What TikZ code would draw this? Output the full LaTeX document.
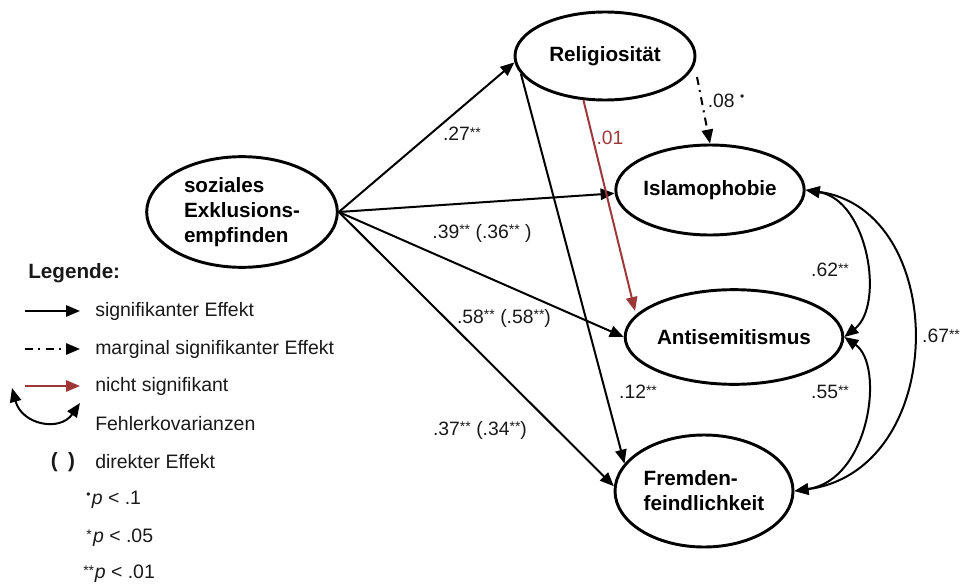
\documentclass[tikz,border=0pt]{standalone}
\usepackage{fontspec}
\setmainfont{Liberation Sans}
\usetikzlibrary{shapes.geometric,arrows.meta}
\definecolor{nsred}{RGB}{158,56,56}
\definecolor{txt}{RGB}{25,25,25}
% small raised significance marks
\newcommand\stars[1]{\raisebox{2.6pt}{\fontsize{10.5}{10}\selectfont #1}}
\newcommand\pdot{\raisebox{5pt}{\fontsize{9}{9}\selectfont •}}
\begin{document}
\begin{tikzpicture}[x=0.75pt,y=-0.75pt,
  construct/.style={ellipse,draw,line width=2.2pt,inner sep=0pt,
    font=\fontsize{15.5}{18.75}\selectfont\bfseries,align=left},
  tip/.style={-{Triangle[length=10.5pt,width=8.5pt]}},
  effect/.style={line width=1.5pt,tip},
  marginal/.style={effect,dash pattern=on 6pt off 4pt on 1.5pt off 4pt},
  nonsig/.style={effect,draw=nsred,-{Triangle[length=10.5pt,width=8.5pt,fill=nsred]}},
  cov/.style={line width=1.5pt,{Triangle[length=10.5pt,width=8.5pt]}-{Triangle[length=10.5pt,width=8.5pt]}},
  coef/.style={font=\fontsize{14.5}{16}\selectfont,text=txt,inner sep=0pt},
  legtext/.style={font=\fontsize{14.6}{16}\selectfont,text=txt,anchor=west,inner sep=0pt},
]
\useasboundingbox (0,0) rectangle (962,585);

% latent constructs
\node[construct,minimum width=143pt,minimum height=83pt] (soz) at (242,212)
  {soziales\\Exklusions-\\empfinden};
\node[construct,minimum width=135pt,minimum height=66pt] (rel) at (605,56) {Religiosität};
\node[construct,minimum width=128pt,minimum height=67.5pt] (isl) at (710,190) {Islamophobie};
\node[construct,minimum width=145pt,minimum height=71pt] (anti) at (734,337) {Antisemitismus};
\node[construct,minimum width=133.5pt,minimum height=84pt] (frem) at (704,491) {Fremden-\\feindlichkeit};

% free ends of paths that stop short of a node
\coordinate (dstart) at (697,77);
\coordinate (redend) at (635,311);

% structural paths
\draw[effect] (soz.east) -- (rel.184);
\draw[effect] (soz.east) -- (isl.182);
\draw[effect] (soz.east) -- (anti.west);
\draw[effect] (soz.east) -- (frem.177);
\draw[effect] (rel.192) -- (frem.161);
\draw[nonsig] (rel.244) -- (redend);
\draw[marginal] (dstart) -- (isl.north);

% error covariances
\draw[cov] (isl.east) .. controls (868,200) and (885,305) .. (anti.east);
\draw[cov] (anti.east) .. controls (885,365) and (870,480) .. (frem.east);
\draw[cov] (isl.east) .. controls (950,210) and (950,470) .. (frem.east);

% coefficients
\node[coef] (c1) at (462,134) {.27\stars{**}};
\node[coef] (c2) at (726,101) {.08\kern4pt\pdot};
\node[coef,text=nsred] (c3) at (610,138) {.01};
\node[coef] (c4) at (482,233) {.39\stars{**} (.36\stars{**} )};
\node[coef] (c5) at (504,318) {.58\stars{**} (.58\stars{**})};
\node[coef] (c6) at (638,392) {.12\stars{**}};
\node[coef] (c7) at (480,430) {.37\stars{**} (.34\stars{**})};
\node[coef] (c8) at (830,270) {.62\stars{**}};
\node[coef] (c9) at (830,392) {.55\stars{**}};
\node[coef] (c10) at (941,336) {.67\stars{**}};

% legend
\node[legtext,font=\fontsize{15.5}{18}\selectfont\bfseries] (lg) at (28,273) {Legende:};
\coordinate (l1a) at (25,311); \coordinate (l1b) at (80,311);
\coordinate (l2a) at (25,349); \coordinate (l2b) at (80,349);
\coordinate (l3a) at (25,386); \coordinate (l3b) at (80,386);
\coordinate (l4a) at (12,388); \coordinate (l4b) at (80,403);
\draw[effect] (l1a) -- (l1b);
\draw[marginal] (l2a) -- (l2b);
\draw[nonsig] (l3a) -- (l3b);
\draw[cov] (l4a) .. controls (22,425) and (60,432) .. (l4b);
\node[legtext] (t1) at (95,311) {signifikanter Effekt};
\node[legtext] (t2) at (95,349) {marginal signifikanter Effekt};
\node[legtext] (t3) at (95,386) {nicht signifikant};
\node[legtext] (t4) at (95,424) {Fehlerkovarianzen};
\node[legtext,font=\fontsize{15.5}{18}\selectfont\bfseries,anchor=center] (t5a) at (63,462) {(\,\,\,)};
\node[legtext] (t5) at (95,462) {direkter Effekt};
\node[legtext,anchor=west] (t6) at (86,500) {\pdot\kern1pt\textit{p} < .1};
\node[legtext,anchor=west] (t7) at (86,538) {\stars{*}\kern1pt\textit{p} < .05};
\node[legtext,anchor=west] (t8) at (83,574) {\stars{**}\kern0.5pt\textit{p} < .01};
\end{tikzpicture}
\end{document}
